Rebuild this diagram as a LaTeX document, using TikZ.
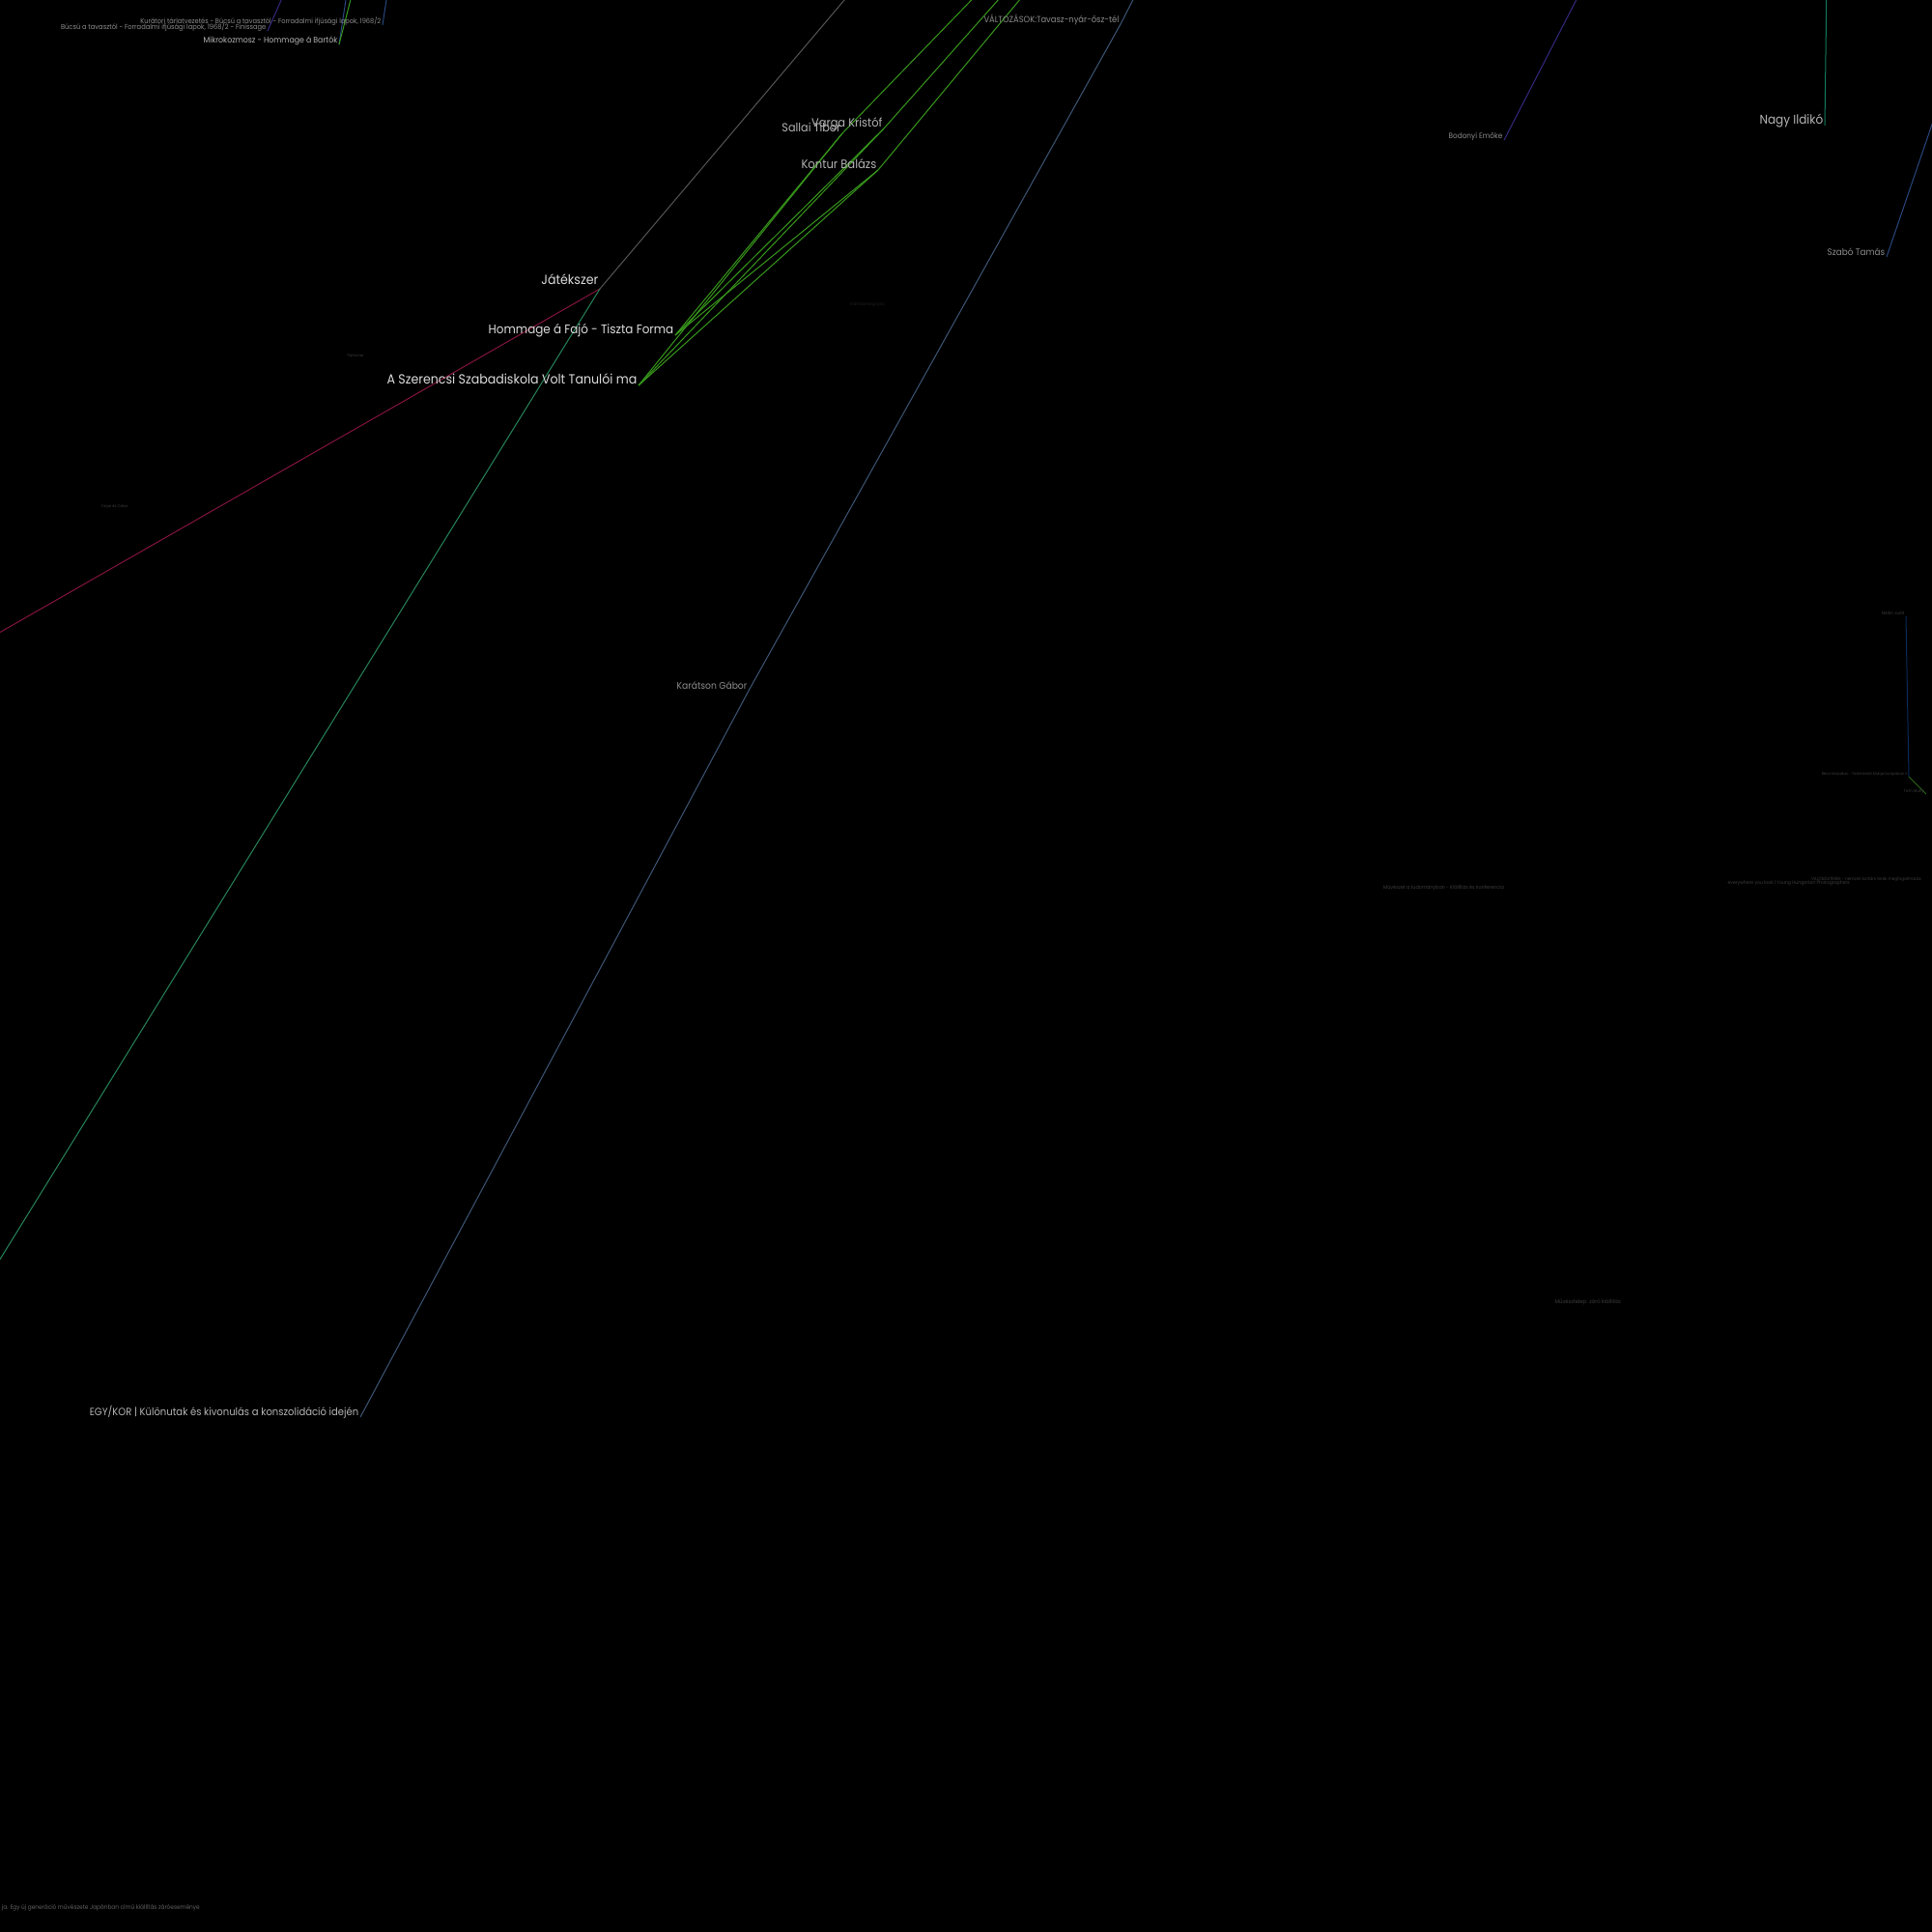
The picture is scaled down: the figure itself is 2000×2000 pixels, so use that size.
\documentclass[tikz,border=0pt]{standalone}
\usepackage{fontspec}
\setmainfont{Poppins}[FakeStretch=0.92]
\usetikzlibrary{positioning}

\definecolor{txthi}{HTML}{DCDCDC}
\definecolor{txtmid}{HTML}{B4B4B4}
\definecolor{txtlo}{HTML}{8C8C8C}
\definecolor{txtdim}{HTML}{3C3C3C}
\definecolor{egrey}{HTML}{555555}
\definecolor{ered}{HTML}{84143F}
\definecolor{eteal}{HTML}{27845A}
\definecolor{egreen}{HTML}{38981C}
\definecolor{eslate}{HTML}{3E5676}
\definecolor{epurple}{HTML}{342A80}
\definecolor{enagy}{HTML}{137A5C}
\definecolor{eblue}{HTML}{2A4780}
\definecolor{edark}{HTML}{0C2A5C}
\newcommand{\fsz}[1]{\fontsize{#1}{#1}\selectfont}

\begin{document}
\begin{tikzpicture}[x=1pt, y=-1pt,
    lbl/.style={anchor=base east, inner sep=0pt, xshift=-1.5pt, yshift=2pt},
    free/.style={anchor=base east, inner sep=0pt},
    edge/.style={line width=1pt}]
    \fill[black] (0,0) rectangle (2000,2000);
    \useasboundingbox (0,0) rectangle (2000,2000);

    % nodes
    \coordinate (kurat) at (396,26);
    \coordinate (bucsu) at (277,32);
    \coordinate (mikro) at (351,46);
    \coordinate (valt) at (1160,25);
    \coordinate (karatson) at (775,715);
    \coordinate (egykor) at (373,1467);
    \coordinate (jatek) at (621,299);
    \coordinate (fajo) at (699,347);
    \coordinate (szerencsi) at (661,399);
    \coordinate (sallai) at (872,138);
    \coordinate (varga) at (915,133);
    \coordinate (kontur) at (909,176);
    \coordinate (bodonyi) at (1557,145);
    \coordinate (nagy) at (1889,130);
    \coordinate (szabo) at (1953,266);
    \coordinate (nikitin) at (1973,638);
    \coordinate (becsi) at (1976,804);
    \coordinate (tom) at (1994,822);

    % off-canvas ends
    \coordinate (kuratT) at (403,-20);
    \coordinate (bucsuT) at (300,-20);
    \coordinate (mikroT) at (361,-20);
    \coordinate (mikroG) at (368,-20);
    \coordinate (valtT) at (1183,-20);
    \coordinate (jatekT) at (891,-20);
    \coordinate (jatekL) at (-20,666);
    \coordinate (jatekB) at (-20,1336);
    \coordinate (sallaiT) at (1025,-20);
    \coordinate (vargaT) at (1051,-20);
    \coordinate (konturT) at (1072,-20);
    \coordinate (bodonyiT) at (1642,-20);
    \coordinate (nagyT) at (1891,-20);
    \coordinate (szaboT) at (2015,85);

    % edges
    \draw[edge, egrey] (jatek) -- (jatekT);
    \draw[edge, ered] (jatek) -- (jatekL);
    \draw[edge, eteal] (jatek) -- (jatekB);
    \draw[edge, eslate] (valt) -- (valtT);
    \draw[edge, eslate] (valt) -- (karatson);
    \draw[edge, eslate] (karatson) -- (egykor);
    \foreach \a in {sallai, varga, kontur} {
        \draw[edge, egreen] (\a) -- (\a T);
        \draw[edge, egreen] (\a) -- (szerencsi);
        \draw[edge, egreen] (\a) -- (fajo);
    }
    \draw[edge, eblue] (kurat) -- (kuratT);
    \draw[edge, epurple] (bucsu) -- (bucsuT);
    \draw[edge, eblue] (mikro) -- (mikroT);
    \draw[edge, egreen] (mikro) -- (mikroG);
    \draw[edge, epurple] (bodonyi) -- (bodonyiT);
    \draw[edge, enagy] (nagy) -- (nagyT);
    \draw[edge, eblue] (szabo) -- (szaboT);
    \draw[edge, edark] (nikitin) -- (becsi);
    \draw[edge, egreen!70!black] (becsi) -- (tom);

    % labels
    \node[lbl, text=txtlo, font=\fsz{7.2}] (kuratL) at (kurat) {Kurátori tárlatvezetés - Búcsú a tavasztól - Forradalmi ifjúsági lapok, 1968/2};
    \node[lbl, text=txtlo, font=\fsz{7.3}] (bucsuL) at (bucsu) {Búcsú a tavasztól - Forradalmi ifjúsági lapok, 1968/2 - Finissage};
    \node[lbl, text=txtmid, font=\fsz{8.5}] (mikroL) at (mikro) {Mikrokozmosz - Hommage á Bartók};
    \node[lbl, text=txtlo, font=\fsz{9.1}] (valtL) at (valt) {VÁLTOZÁSOK:Tavasz-nyár-ősz-tél};
    \node[lbl, text=txtlo, font=\fsz{10}] (karatsonL) at (karatson) {Karátson Gábor};
    \node[lbl, text=txtmid, font=\fsz{10.9}] (egykorL) at (egykor) {EGY/KOR | Különutak és kivonulás a konszolidáció idején};
    \node[lbl, text=txthi, font=\fsz{13.7}, yshift=2.5pt] (jatekL2) at (jatek) {Játékszer};
    \node[lbl, text=txthi, font=\fsz{13}] (fajoL) at (fajo) {Hommage á Fajó - Tiszta Forma};
    \node[lbl, text=txthi, font=\fsz{13.7}] (szerencsiL) at (szerencsi) {A Szerencsi Szabadiskola Volt Tanulói ma};
    \node[lbl, text=txtmid, font=\fsz{12.2}] (sallaiL) at (sallai) {Sallai Tibor};
    \node[lbl, text=txtmid, font=\fsz{12.4}] (vargaL) at (varga) {Varga Kristóf};
    \node[lbl, text=txtmid, font=\fsz{12.6}] (konturL) at (kontur) {Kontur Balázs};
    \node[lbl, text=txtlo, font=\fsz{7.95}] (bodonyiL) at (bodonyi) {Bodonyi Emőke};
    \node[lbl, text=txtmid, font=\fsz{13.1}] (nagyL) at (nagy) {Nagy Ildikó};
    \node[lbl, text=txtlo, font=\fsz{9.6}] (szaboL) at (szabo) {Szabó Tamás};
    \node[lbl, text=txtdim, font=\fsz{4.5}] (nikitinL) at (nikitin) {Nikitin Judit};
    \node[lbl, text=txtdim, font=\fsz{4}] (becsiL) at (becsi) {Bécsi Mozaikus - Türkmeniát Klubja Európában II};
    \node[lbl, text=txtdim, font=\fsz{4.5}] (tomL) at (tom) {Tom Slutty};

    % loose texts
    \node[free, text=black!88!white, font=\fsz{4.5}] (kiall) at (916,316) {Kiállításmegnyitó};
    \node[free, text=txtdim, font=\fsz{4}] (taj) at (377,369) {Tájmonar};
    \node[free, text=txtdim, font=\fsz{4}] (csipe) at (133,525) {Csipe és Csikor};
    \node[free, text=txtdim, font=\fsz{5.3}] (muvtud) at (1557,920) {Művészet a tudományban - Kiállítás és konferencia};
    \node[free, text=txtdim, font=\fsz{4.5}] (valosag) at (1989,911) {VALÓSÁGTEREK - nemzeti kortárs terek megfogalmazás};
    \node[free, text=txtdim, font=\fsz{5}] (everyw) at (1915,915) {everywhere you look | Young Hungarian Photographers};
    \node[free, text=txtdim, font=\fsz{5.75}] (muvtel) at (1678,1349) {Művésztelep: záró kiállítás};
    \node[free, text=txtlo!70!black, font=\fsz{6.3}] (japan) at (207,1976) {ja. Egy új generáció művészete Japánban című kiállítás záróeseménye};
\end{tikzpicture}
\end{document}
